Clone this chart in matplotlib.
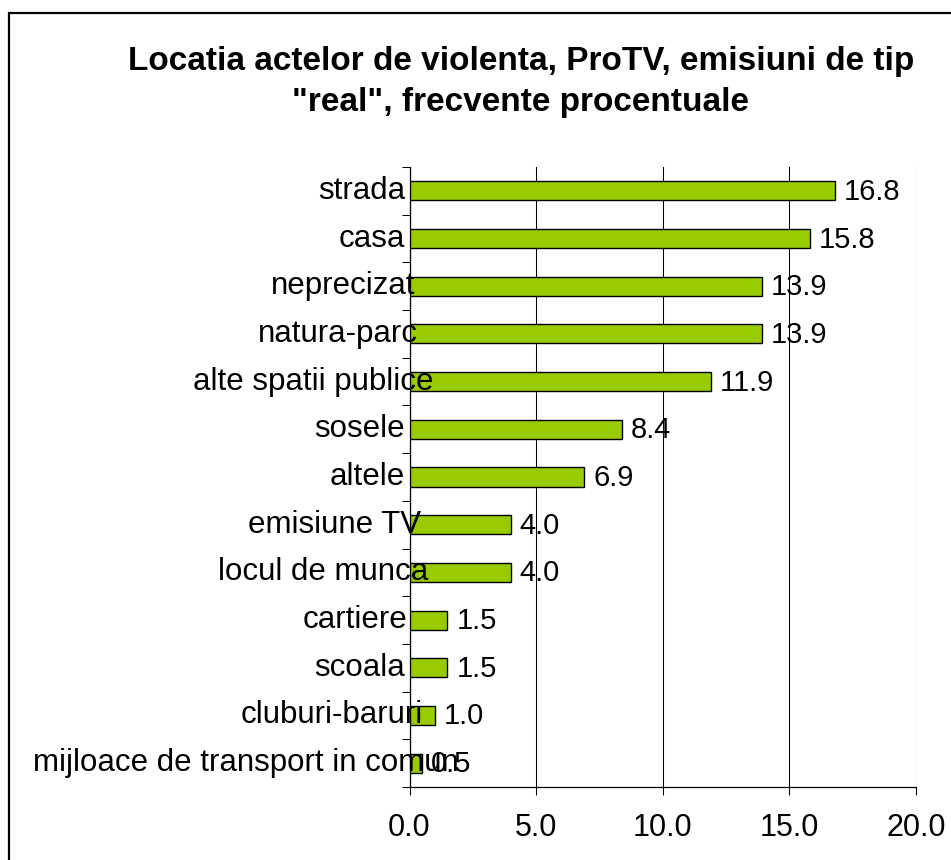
import matplotlib
matplotlib.use("Agg")
import matplotlib.pyplot as plt
import matplotlib.transforms as mtransforms
from matplotlib.patches import Rectangle

plt.rcParams["font.family"] = ["Liberation Sans", "DejaVu Sans"]

locations = [
    "strada", "casa", "neprecizat", "natura-parc", "alte spatii publice",
    "sosele", "altele", "emisiune TV", "locul de munca", "cartiere",
    "scoala", "cluburi-baruri", "mijloace de transport in comun",
]
percent = [16.8, 15.8, 13.9, 13.9, 11.9, 8.4, 6.9, 4.0, 4.0, 1.5, 1.5, 1.0, 0.5]
x_ticks = [0, 5, 10, 15, 20]
title = 'Locatia actelor de violenta, ProTV, emisiuni de tip\n"real", frecvente procentuale'

W, H = 951, 860
fig = plt.figure(figsize=(W / 100, H / 100), dpi=100)
ax = fig.add_axes([409.5 / W, 1 - 787 / H, (916 - 409.5) / W, (787 - 167) / H])

ypos = list(range(len(locations)))
ax.barh(ypos, percent, height=0.4, color="#99CC00", edgecolor="black", linewidth=1.0, zorder=3)

ax.set_xlim(0, 20)
ax.set_ylim(len(locations) - 0.5, -0.5)

# vertical gridlines only
ax.set_xticks(x_ticks)
ax.set_xticklabels([f"{v:.1f}" for v in x_ticks], fontsize=22)
ax.xaxis.grid(True, color="black", linewidth=0.75, zorder=0)
ax.tick_params(axis="x", direction="out", length=6, width=0.75, pad=12.5)

# category ticks at boundaries, no labels there
ax.set_yticks([i - 0.5 for i in range(len(locations) + 1)])
ax.set_yticklabels([])
ax.tick_params(axis="y", direction="out", length=5.5, width=0.75)

for side in ["top", "right"]:
    ax.spines[side].set_visible(False)
for side in ["left", "bottom"]:
    ax.spines[side].set_linewidth(0.9)

# category labels, Excel-style overflow to the right for long ones
lab_tr = mtransforms.blended_transform_factory(ax.transAxes, ax.transData)
labels = []
for i, name in enumerate(locations):
    t = ax.text(0, i, name, transform=lab_tr, ha="right", va="center", fontsize=22.5)
    labels.append(t)

fig.canvas.draw()
renderer = fig.canvas.get_renderer()
for i, t in enumerate(labels):
    w = t.get_window_extent(renderer).width
    if locations[i].startswith("mijloace"):
        t.set_transform(mtransforms.blended_transform_factory(fig.transFigure, ax.transData))
        t.set_x(33 / W)
        t.set_ha("left")
    else:
        shift = -4.5 + max(0.0, 0.19 * (w - 90))
        off = mtransforms.ScaledTranslation(shift / 100, 0, fig.dpi_scale_trans)
        t.set_transform(lab_tr + off)

# value labels
val_off = mtransforms.ScaledTranslation(9 / 100, -1 / 100, fig.dpi_scale_trans)
for i, v in enumerate(percent):
    ax.text(v, i, f"{v:.1f}", transform=ax.transData + val_off,
            ha="left", va="center", fontsize=21, zorder=4)

fig.text(521 / W, 1 - 82 / H, title, ha="center", va="center",
         fontsize=24, fontweight="bold", linespacing=1.38)

# chart area border (cut off at the right and bottom)
fig.patches.append(Rectangle((9 / W, -0.1), 1.2, 1.1 - 13 / H,
                             transform=fig.transFigure, fill=False,
                             edgecolor="black", linewidth=1.6))

fig.savefig("out.png", dpi=100)
